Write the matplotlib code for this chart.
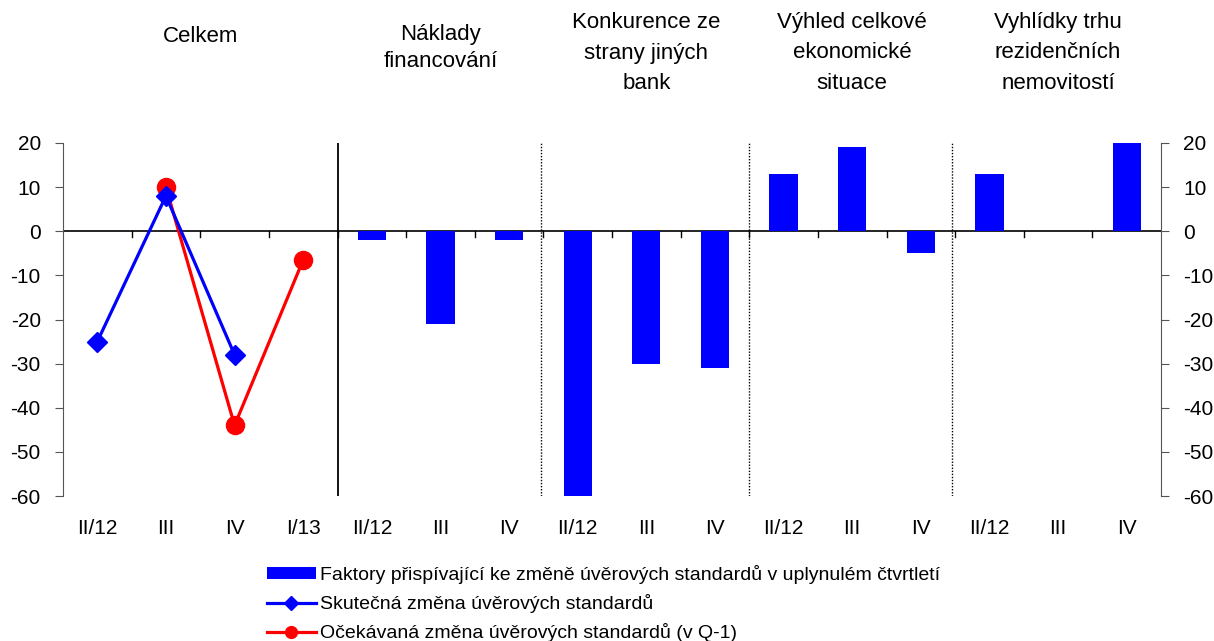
import numpy as np
import matplotlib as mpl
mpl.rcParams['font.family'] = ['Liberation Sans', 'DejaVu Sans']
mpl.rcParams['axes.unicode_minus'] = False
import matplotlib.pyplot as plt
from matplotlib.patches import Patch
from matplotlib.lines import Line2D

# Data
groups = ['Celkem', 'Náklady\nfinancování', 'Konkurence ze\nstrany jiných\nbank',
          'Výhled celkové\nekonomické\nsituace', 'Vyhlídky trhu\nrezidenčních\nnemovitostí']
cat_labels = ['II/12', 'III', 'IV', 'I/13',
              'II/12', 'III', 'IV',
              'II/12', 'III', 'IV',
              'II/12', 'III', 'IV',
              'II/12', 'III', 'IV']
actual = [-25, 8, -28]                 # Celkem II/12 .. IV
expected = [10, -44, -6.5]             # Celkem III .. I/13
factors = [-2, -21, -2,                # Naklady financovani
           -60, -30, -31,              # Konkurence
           13, 19, -5,                 # Vyhled
           13, 0, 20]                  # Vyhlidky

x = np.arange(len(cat_labels))
W, H = 1214, 641
fig = plt.figure(figsize=(W/100, H/100), dpi=100)
ax = fig.add_axes([63/W, 1-496/H, (1161-63)/W, (496-143)/H])

blue = '#0000FF'
red = '#FF0000'

ax.bar(x[4:], factors, width=0.41, color=blue, zorder=2)
ax.plot(x[0:3], actual, color=blue, lw=2.3, marker='D', markersize=10.5, zorder=4)
ax.plot(x[1:4], expected, color=red, lw=2.3, marker='o', markersize=13, zorder=3)

ax.axhline(0, color='black', lw=1.2, zorder=1)
ax.axvline(3.5, color='black', lw=1.3, zorder=1)
for b in [6.47, 9.49, 12.46]:
    ax.axvline(b, color='black', lw=1.0, ls=(0, (1, 1.2)), zorder=1)

ax.set_xlim(-0.5, 15.5)
ax.set_ylim(-60, 20)
ax.set_yticks(np.arange(-60, 21, 10))

for s in ['top', 'bottom']:
    ax.spines[s].set_visible(False)
for s in ['left', 'right']:
    ax.spines[s].set_color('#555555')
ax.tick_params(axis='y', which='major', direction='out', length=6, color='#555555',
               labelsize=15, left=True, right=True, labelleft=True, labelright=True,
               pad=10)

# tick marks on zero line at category boundaries
ax.set_xticks([])
for b in np.arange(0.5, 15.5, 1.0):
    ax.plot([b, b], [0, -1.3], color='black', lw=1.0, zorder=1)

# category labels
for xi, lab in zip(x, cat_labels):
    ax.text(xi, -0.093, lab, transform=ax.get_xaxis_transform(),
            ha='center', va='center', fontsize=15)

# group titles
centers = [1.5, 5, 8, 11, 14]
for c, g in zip(centers, groups):
    nl = g.count('\n') + 1
    ypos, lsp = {1: (37, 1.2), 2: (48, 1.42), 3: (53, 1.58)}[nl]
    fig.text(63/W + (c + 0.5) / 16 * (1098/W), 1 - ypos/H, g, ha='center', va='center',
             fontsize=16, linespacing=lsp)

handles = [Patch(facecolor=blue),
           Line2D([], [], color=blue, lw=2.3, marker='D', markersize=7.5),
           Line2D([], [], color=red, lw=2.3, marker='o', markersize=8.5)]
labels = ['Faktory přispívající ke změně úvěrových standardů v uplynulém čtvrtletí',
          'Skutečná změna úvěrových standardů',
          'Očekávaná změna úvěrových standardů (v Q-1)']
fig.legend(handles, labels, loc='upper left', bbox_to_anchor=(267/W, 1-565/H),
           frameon=False, fontsize=14, handlelength=2.5, handleheight=0.6,
           handletextpad=0.2, labelspacing=0.52, borderpad=0, borderaxespad=0)

fig.savefig('out.png', dpi=100)
